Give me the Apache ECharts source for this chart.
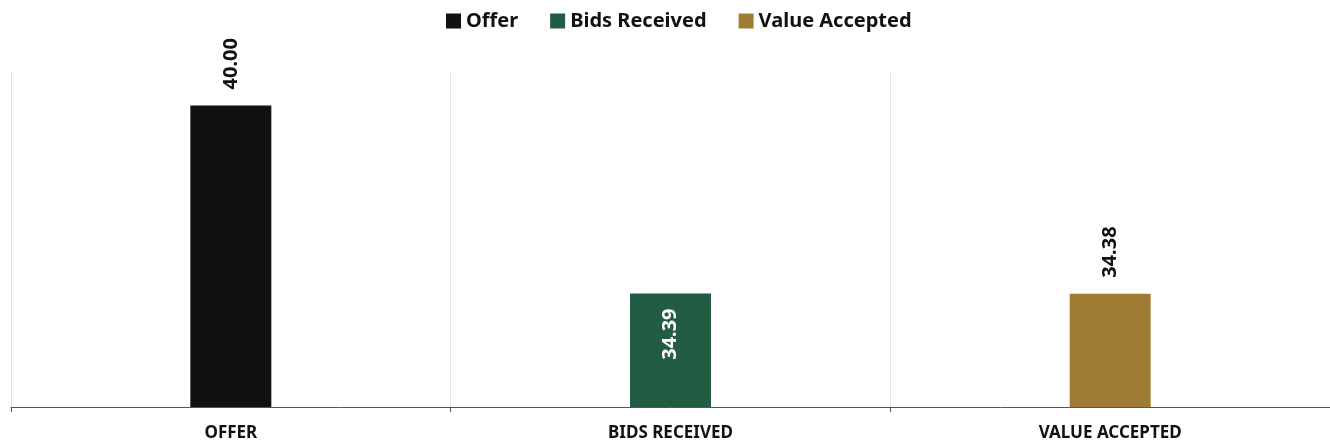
<!DOCTYPE html>
<html>
<head>
<meta charset="utf-8">
<script src="https://cdn.jsdelivr.net/npm/echarts@6/dist/echarts.min.js"></script>
<style>
  html, body { margin: 0; padding: 0; background: #fff; }
  #chart { width: 1330px; height: 445px; }
</style>
</head>
<body>
<div id="chart"></div>
<script>
const categories = ["OFFER", "BIDS RECEIVED", "VALUE ACCEPTED"];
const seriesNames = ["Offer", "Bids Received", "Value Accepted"];
const offerValues = [40.0, null, null];
const bidsValues = [null, 34.39, null];
const acceptedValues = [null, null, 34.38];
const colors = ["#111111", "#225c42", "#9f7c34"];

const font = "'Noto Sans', sans-serif";

const topLabel = {
  show: true,
  position: "top",
  rotate: 90,
  align: "left",
  verticalAlign: "middle",
  distance: 16,
  color: "#111",
  fontFamily: font,
  fontWeight: "bold",
  fontSize: 20,
  formatter: (p) => p.value.toFixed(2),
};

const insideLabel = Object.assign({}, topLabel, {
  position: "insideTop",
  align: "right",
  distance: 15,
  color: "#fff",
});

const chart = echarts.init(document.getElementById("chart"));
chart.setOption({
  animation: false,
  legend: {
    top: 6,
    left: 441,
    itemWidth: 15,
    itemHeight: 15,
    itemGap: 32,
    icon: "rect",
    textStyle: { fontFamily: font, fontWeight: "bold", fontSize: 20, color: "#111" },
    data: seriesNames,
  },
  grid: { left: 11, width: 1320, top: 72, bottom: 38 },
  xAxis: {
    type: "category",
    data: categories,
    axisLine: { lineStyle: { color: "#555", width: 1 } },
    axisTick: { show: true, length: 5, lineStyle: { color: "#555" } },
    splitLine: { show: true, lineStyle: { color: "#e2e2e2" } },
    axisLabel: {
      margin: 18,
      fontFamily: font,
      fontWeight: "bold",
      fontSize: 17,
      color: "#111",
    },
  },
  yAxis: {
    type: "value",
    min: 31,
    max: 41,
    show: false,
    splitLine: { show: false },
  },
  series: [
    { name: seriesNames[0], type: "bar", stack: "s", data: offerValues, barWidth: 81, itemStyle: { color: colors[0] }, label: topLabel },
    { name: seriesNames[1], type: "bar", stack: "s", data: bidsValues, barWidth: 81, itemStyle: { color: colors[1] }, label: insideLabel },
    { name: seriesNames[2], type: "bar", stack: "s", data: acceptedValues, barWidth: 81, itemStyle: { color: colors[2] }, label: topLabel },
  ],
});
</script>
</body>
</html>
